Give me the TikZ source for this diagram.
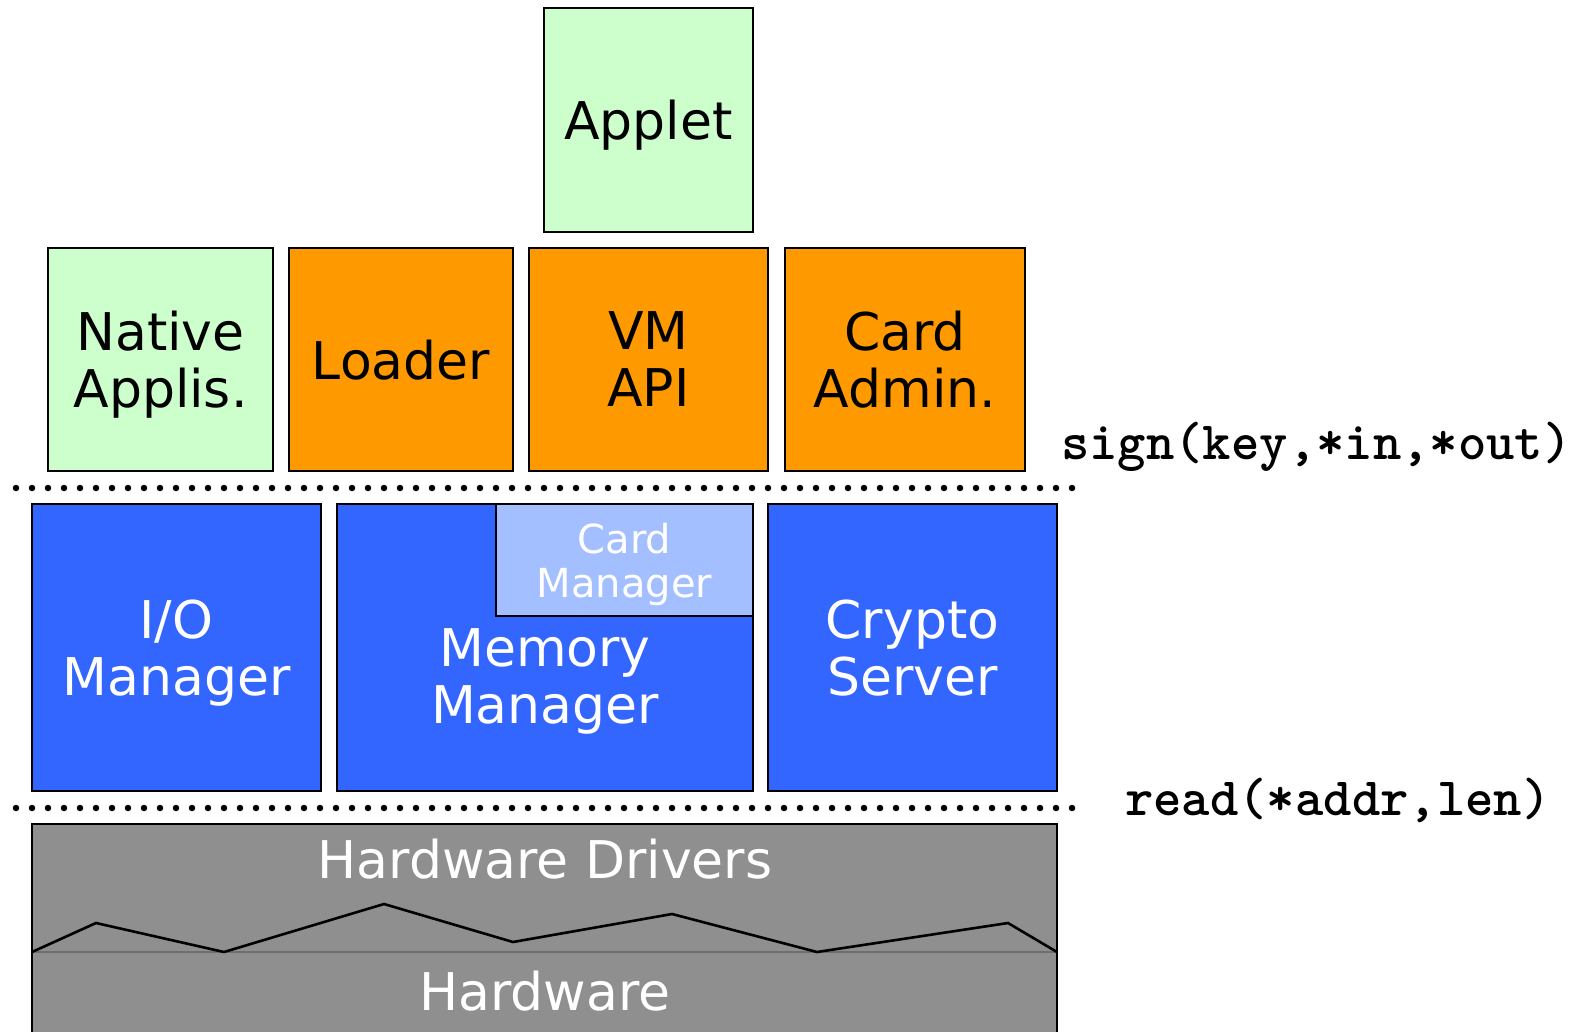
\documentclass[tikz,border=0pt]{standalone}
\usepackage{fontspec}
\setmainfont{DejaVu Sans}
\definecolor{appgreen}{RGB}{204,255,204}
\definecolor{sysorange}{RGB}{255,153,0}
\definecolor{osblue}{RGB}{51,102,255}
\definecolor{cmblue}{RGB}{163,191,255}
\definecolor{hwgray}{RGB}{143,143,143}
\definecolor{hwedge}{RGB}{110,110,110}
\tikzset{
  layerbox/.style={draw=black, line width=2.6pt, inner sep=0pt, outer sep=0pt,
    align=center, text depth=0pt, font=\fontsize{52}{57}\selectfont},
  appbox/.style={layerbox, fill=appgreen, text=black},
  sysbox/.style={layerbox, fill=sysorange, text=black},
  osbox/.style={layerbox, fill=osblue, text=white},
  subbox/.style={layerbox, fill=cmblue, text=white, font=\fontsize{40}{44}\selectfont},
  whitelabel/.style={text=white, align=center, inner sep=0pt, text depth=0pt,
    font=\fontsize{52}{57}\selectfont},
  apiline/.style={line width=6.5pt, line cap=round, dash pattern=on 0pt off 16pt},
  apitext/.style={anchor=west, inner sep=0pt, font=\ttfamily\bfseries\fontsize{54}{56}\selectfont}
}
\begin{document}
\begin{tikzpicture}[x=1pt, y=-1pt]
\useasboundingbox (0,0) rectangle (1589,1031);

% applications
\node[appbox, minimum width=209pt, minimum height=224pt] (applet) at (648.5,120) {Applet};
\node[appbox, minimum width=225pt, minimum height=223pt] (native) at (160.5,359.5) {Native\\Applis.};
\node[sysbox, minimum width=224pt, minimum height=223pt] (loader) at (401,359.5) {Loader};
\node[sysbox, minimum width=239pt, minimum height=223pt] (vm) at (648.5,359.5) {VM\\API};
\node[sysbox, minimum width=240pt, minimum height=223pt] (admin) at (905,359.5) {Card\\Admin.};

% upper interface
\coordinate (s0) at (16,488);
\coordinate (s1) at (1075,488);
\draw[apiline] (s0) -- (s1);
\node[apitext] (sign) at (1061,447) {sign(key,*in,*out)};

% operating system services
\node[osbox, minimum width=289pt, minimum height=287pt] (io) at (176.5,647.5) {I/O\\Manager};
\node[osbox, minimum width=416pt, minimum height=287pt] (mem) at (545,647.5) {};
\node[whitelabel] (memlbl) at (545,676) {Memory\\Manager};
\node[subbox, minimum width=257pt, minimum height=112pt] (cardmgr) at (624.5,560) {Card\\Manager};
\node[osbox, minimum width=289pt, minimum height=287pt] (crypto) at (912.5,647.5) {Crypto\\Server};

% lower interface
\coordinate (r0) at (16,808);
\coordinate (r1) at (1075,808);
\draw[apiline] (r0) -- (r1);
\node[apitext] (read) at (1125,800) {read(*addr,len)};

% drivers and hardware
\fill[hwgray] (32,824) rectangle (1057,1040);
\draw[hwedge, line width=1.2pt] (32,952) -- (1057,952);
\draw[black, line width=2.6pt, line join=miter]
  (32,952) -- (96,923) -- (224,952) -- (384,904) -- (513,942)
  -- (672,914) -- (817,952) -- (1008,923) -- (1057,952);
\draw[black, line width=2.6pt] (32,1040) -- (32,824) -- (1057,824) -- (1057,1040);
\node[whitelabel] (drivers) at (545,859) {Hardware Drivers};
\node[whitelabel] (hw) at (545,991) {Hardware};
\end{tikzpicture}
\end{document}
